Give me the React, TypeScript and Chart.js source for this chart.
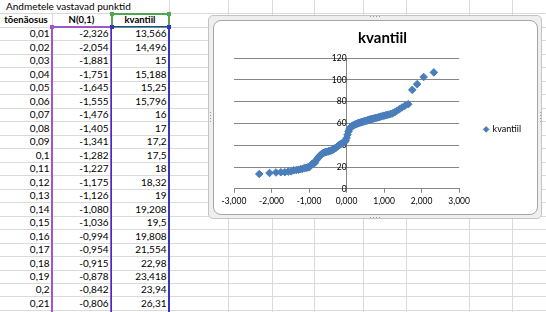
import React, { useEffect, useRef } from "react";
import { Chart, registerables } from "chart.js";

Chart.register(...registerables);

// ---------- data ----------
const sheetTitle = "Andmetele vastavad punktid";
const headers = ["tõenäosus", "N(0,1)", "kvantiil"];
const seriesName = "kvantiil";

// probabilities shown in the visible table rows
const probabilities = [
  0.01, 0.02, 0.03, 0.04, 0.05, 0.06, 0.07, 0.08, 0.09, 0.1, 0.11, 0.12, 0.13,
  0.14, 0.15, 0.16, 0.17, 0.18, 0.19, 0.2, 0.21,
];

// N(0,1) quantiles for p = 0.01 ... 0.99
const normalQuantiles = [
  -2.326, -2.054, -1.881, -1.751, -1.645, -1.555, -1.476, -1.405, -1.341, -1.282,
  -1.227, -1.175, -1.126, -1.08, -1.036, -0.994, -0.954, -0.915, -0.878, -0.842,
  -0.806, -0.772, -0.739, -0.706, -0.674, -0.643, -0.613, -0.583, -0.553, -0.524,
  -0.496, -0.468, -0.44, -0.412, -0.385, -0.358, -0.332, -0.305, -0.279, -0.253,
  -0.228, -0.202, -0.176, -0.151, -0.126, -0.1, -0.075, -0.05, -0.025, 0,
  0.025, 0.05, 0.075, 0.1, 0.126, 0.151, 0.176, 0.202, 0.228, 0.253,
  0.279, 0.305, 0.332, 0.358, 0.385, 0.412, 0.44, 0.468, 0.496, 0.524,
  0.553, 0.583, 0.613, 0.643, 0.674, 0.706, 0.739, 0.772, 0.806, 0.842,
  0.878, 0.915, 0.954, 0.994, 1.036, 1.08, 1.126, 1.175, 1.227, 1.282,
  1.341, 1.405, 1.476, 1.555, 1.645, 1.751, 1.881, 2.054, 2.326,
];

// sample quantiles (first 21 from the table, rest)
const kvantiilValues = [
  13.566, 14.496, 15, 15.188, 15.25, 15.796, 16, 17, 17.2, 17.5,
  18, 18.32, 19, 19.208, 19.5, 19.808, 21.554, 22.98, 23.418, 23.94,
  26.31, 27.8, 29.3, 30.6, 31.6, 32.4, 33.0, 33.4, 33.7, 34.0,
  34.2, 34.5, 34.8, 35.2, 35.6, 36.0, 36.6, 37.2, 37.9, 38.6,
  39.3, 40.0, 40.6, 41.1, 41.6, 42.0, 42.4, 43.0, 44.2, 46.5,
  49.5, 52.5, 54.6, 56.0, 57.0, 57.7, 58.2, 58.6, 59.0, 59.4,
  59.8, 60.1, 60.4, 60.7, 61.0, 61.3, 61.6, 61.9, 62.2, 62.5,
  62.8, 63.1, 63.4, 63.7, 64.0, 64.3, 64.6, 64.9, 65.2, 65.5,
  65.9, 66.3, 66.7, 67.0, 67.4, 67.8, 68.2, 68.6, 69.2, 70.2,
  71.6, 73.0, 74.6, 76.2, 77.6, 90.8, 96.0, 102.6, 106.8,
];

const xAxisMin = -3;
const xAxisMax = 3;
const xAxisStep = 1;
const yAxisMin = 0;
const yAxisMax = 120;
const yAxisStep = 20;

// ---------- layout / style ----------
const FONT = "Lato, 'Open Sans', sans-serif";
const GRID = "#DADADA";
const COL_EDGES = [52, 111, 169, 228, 272, 314, 363, 406, 469, 512];
const ROW_STEP = 13.49;
const rowY = (k: number) => Math.round(ROW_STEP * k - 0.3);
const PURPLE = "#A055CC";
const BLUE = "#3535C0";
const GREEN = "#4FA84F";
const MARKER = "#4A7EBB";

const commaNum = (v: number) => String(v).replace(".", ",");
const fixed3 = (v: number) => v.toFixed(3).replace(".", ",");

function ChartBox() {
  const ref = useRef<HTMLCanvasElement | null>(null);
  useEffect(() => {
    if (!ref.current) return;
    const chart = new Chart(ref.current, {
      type: "scatter",
      data: {
        datasets: [
          {
            label: seriesName,
            data: normalQuantiles.map((x, i) => ({ x, y: kvantiilValues[i] })),
            pointStyle: "rectRot",
            pointRadius: 3.8,
            pointBorderWidth: 1,
            backgroundColor: MARKER,
            borderColor: MARKER,
            showLine: false,
          },
        ],
      },
      options: {
        animation: false,
        responsive: false,
        maintainAspectRatio: false,
        devicePixelRatio: 1,
        layout: { padding: { left: 19, right: 6, top: 0, bottom: 5 } },
        plugins: {
          title: {
            display: true,
            text: seriesName,
            color: "#000",
            font: { family: FONT, size: 15, weight: "bold" },
            padding: { top: 7, bottom: 11 },
          },
          legend: {
            display: true,
            position: "right",
            fullSize: false,
            align: "center",
            title: {
              display: true,
              text: "",
              font: { size: 1, lineHeight: 1 },
              padding: { top: 11, bottom: 0 },
            },
            labels: {
              usePointStyle: true,
              pointStyle: "rectRot",
              boxWidth: 4,
              boxHeight: 4,
              padding: 25,
              color: "#000",
              font: { family: FONT, size: 9 },
            },
          },
          tooltip: { enabled: false },
        },
        scales: {
          x: {
            type: "linear",
            min: xAxisMin,
            max: xAxisMax,
            ticks: {
              stepSize: xAxisStep,
              autoSkip: false,
              maxRotation: 0,
              padding: 3,
              color: "#000",
              font: { family: FONT, size: 8.5 },
              callback: (v: any) => fixed3(Number(v)),
            },
            grid: {
              display: true,
              drawOnChartArea: false,
              drawTicks: true,
              tickLength: 4,
              color: "#878787",
            },
            border: { display: true, color: "#878787" },
          },
          y: {
            type: "linear",
            position: { x: 0 } as any,
            min: yAxisMin,
            max: yAxisMax,
            ticks: {
              stepSize: yAxisStep,
              padding: 4,
              color: "#000",
              font: { family: FONT, size: 8.5 },
            },
            grid: { color: "#878787", drawTicks: false },
            border: { display: true, color: "#878787" },
          },
        },
      } as any,
    });
    return () => chart.destroy();
  }, []);
  return (
    <canvas
      ref={ref}
      width={322}
      height={192}
      style={{ position: "absolute", left: 215, top: 22, width: 322, height: 192 }}
    />
  );
}

function Dots({ x, y, n, vertical }: { x: number; y: number; n: number; vertical?: boolean }) {
  const items = [];
  for (let i = 0; i < n; i++) {
    items.push(
      <div
        key={i}
        style={{
          position: "absolute",
          left: vertical ? x : x + i * 3,
          top: vertical ? y + i * 3 : y,
          width: 1,
          height: 1,
          background: "#9A9A9A",
        }}
      />
    );
  }
  return <>{items}</>;
}

export default function App() {
  const abs: React.CSSProperties = { position: "absolute" };
  const lines: React.ReactNode[] = [];
  for (let k = 1; k <= 23; k++) {
    lines.push(
      <div key={"h" + k} style={{ ...abs, left: 0, top: rowY(k), width: 546, height: 1, background: GRID }} />
    );
  }
  COL_EDGES.forEach((x) => {
    const top = x === 52 || x === 111 ? rowY(1) : 0;
    lines.push(
      <div key={"v" + x} style={{ ...abs, left: x, top, width: 1, height: 312 - top, background: GRID }} />
    );
  });

  const rowH = (k: number) => rowY(k + 1) - rowY(k);
  const cellText = (
    key: string,
    left: number,
    right: number,
    k: number,
    text: string,
    align: "left" | "right" | "center",
    bold = false
  ) => (
    <div
      key={key}
      style={{
        ...abs,
        left,
        width: right - left,
        top: rowY(k),
        height: rowH(k),
        lineHeight: rowH(k) + "px",
        fontSize: bold ? 9.5 : 10,
        fontWeight: bold ? 700 : 400,
        textAlign: align,
        whiteSpace: "nowrap",
        color: "#000",
        boxSizing: "border-box",
        paddingRight: align === "right" ? 2.5 : 0,
      }}
    >
      {text}
    </div>
  );

  const cells: React.ReactNode[] = [];
  cells.push(
    <div
      key="title"
      style={{ ...abs, left: 6, top: 0, height: 13, lineHeight: "13px", fontSize: 10, whiteSpace: "nowrap", color: "#000" }}
    >
      {sheetTitle}
    </div>
  );
  cells.push(cellText("h0", 0, 52, 1, headers[0], "center", true));
  cells.push(cellText("h1", 52, 111, 1, headers[1], "center", true));
  cells.push(cellText("h2", 111, 169, 1, headers[2], "center", true));
  probabilities.forEach((p, i) => {
    const k = i + 2;
    cells.push(cellText("a" + i, 0, 52, k, commaNum(p), "right"));
    cells.push(cellText("b" + i, 52, 111, k, fixed3(normalQuantiles[i]), "right"));
    cells.push(cellText("c" + i, 111, 169, k, commaNum(kvantiilValues[i]), "right"));
  });

  const handle = (key: string, x: number, y: number, color: string) => (
    <div key={key} style={{ ...abs, left: x - 2, top: y - 2, width: 4, height: 4, background: color }} />
  );

  return (
    <div
      style={{
        position: "relative",
        width: 546,
        height: 312,
        overflow: "hidden",
        background: "#fff",
        fontFamily: FONT,
      }}
    >
      <style>{"html,body{margin:0;padding:0;background:#fff}"}</style>
      {lines}
      {cells}
      {/* range highlight boxes */}
      <div style={{ ...abs, left: 51, top: 26, width: 60, height: 320, borderStyle: "solid", borderColor: PURPLE, borderWidth: "2px 1px 0 2px", boxSizing: "border-box" }} />
      <div style={{ ...abs, left: 111, top: 26, width: 59, height: 320, borderStyle: "solid", borderColor: BLUE, borderWidth: "2px 2px 0 1px", boxSizing: "border-box" }} />
      <div style={{ ...abs, left: 111, top: 13, width: 59, height: 15, border: "2px solid " + GREEN, borderBottomWidth: 1, boxSizing: "border-box" }} />
      {handle("hp", 52, 27, PURPLE)}
      {handle("hb1", 111.5, 27, BLUE)}
      {handle("hb2", 169, 27, BLUE)}
      {handle("hg1", 111.5, 14, GREEN)}
      {handle("hg2", 169, 14, GREEN)}
      {/* chart object frame */}
      <div style={{ ...abs, left: 208, top: 15, width: 334, height: 204, background: "#EFEFEF", border: "1px solid #C4C4C4", borderRadius: 5, boxSizing: "border-box" }} />
      <div style={{ ...abs, left: 213, top: 20, width: 325, height: 195, background: "#fff", border: "1px solid #A6A6A6", borderRadius: 8, boxSizing: "border-box" }} />
      <Dots x={370} y={16} n={4} />
      <Dots x={370} y={217} n={4} />
      <Dots x={210} y={112} n={4} vertical />
      <Dots x={540} y={112} n={4} vertical />
      <ChartBox />
    </div>
  );
}
